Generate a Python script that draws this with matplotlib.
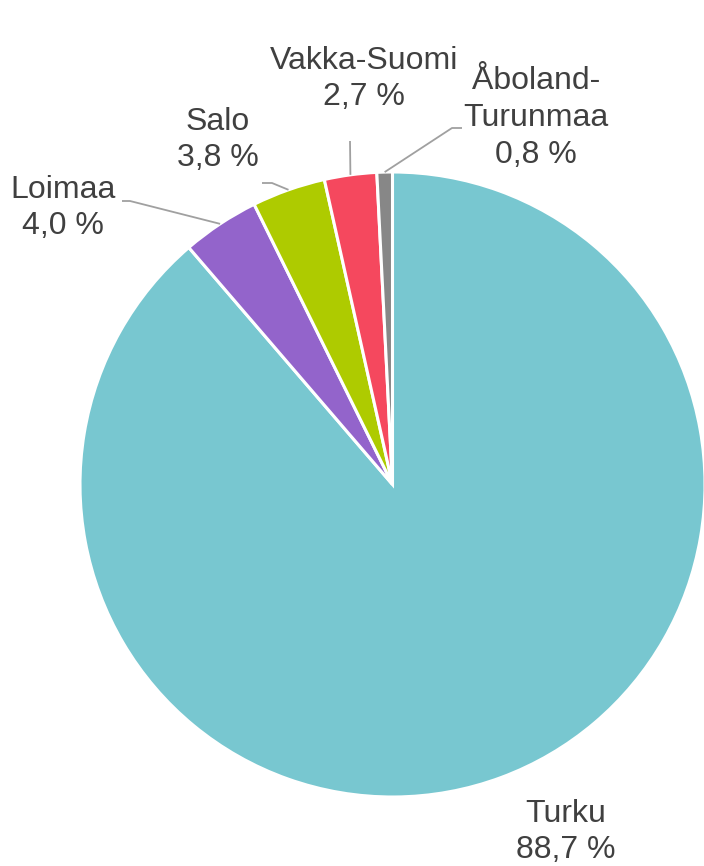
import matplotlib.pyplot as plt
import numpy as np

# data
regions = ["Turku", "Loimaa", "Salo", "Vakka-Suomi", "Åboland-\nTurunmaa"]
shares = [88.7, 4.0, 3.8, 2.7, 0.8]
colors = ["#78C7D0", "#9364CB", "#AECB00", "#F5485E", "#878787"]

# layout (pixels in the 704x866 image)
W, H = 704, 866
CX, CY, R = 392.5, 484.5, 312.5
label_pos = [(566, 832), (63, 208), (218, 140), (364, 79), (536, 118)]
leader_pts = [None, [(122, 201), (130, 201)], [(262, 183), (272, 183)],
              [(350, 141)], [(462, 128), (452, 128)]]

TXT = "#404040"
LINE = "#A0A0A0"


def px(x, y):
    return (x - CX) / R, (CY - y) / R


plt.rcParams['font.family'] = ['Liberation Sans', 'DejaVu Sans']

fig = plt.figure(figsize=(W / 100, H / 100), dpi=100)
ax = fig.add_axes([0, 0, 1, 1])

wedges, _ = ax.pie(shares, colors=colors, startangle=90, counterclock=False,
                   radius=1.0, wedgeprops=dict(edgecolor="white", linewidth=2.2))

ax.set_xlim(-CX / R, (W - CX) / R)
ax.set_ylim((CY - H) / R, CY / R)
ax.set_aspect("auto")
ax.axis("off")

for i, w in enumerate(wedges):
    name = regions[i]
    txt = f"{name}\n{shares[i]:.1f} %".replace(".", ",")
    tx, ty = px(*label_pos[i])
    ax.text(tx, ty, txt, ha="center", va="center", multialignment="center",
            fontsize=23, color=TXT, linespacing=1.3)
    if leader_pts[i] is not None:
        mid = np.deg2rad((w.theta1 + w.theta2) / 2)
        pts = [px(x, y) for x, y in leader_pts[i]]
        pts.append((np.cos(mid), np.sin(mid)))
        xs, ys = zip(*pts)
        ax.plot(xs, ys, color=LINE, lw=1.3, solid_capstyle="butt")

fig.savefig("out.png", dpi=100)
